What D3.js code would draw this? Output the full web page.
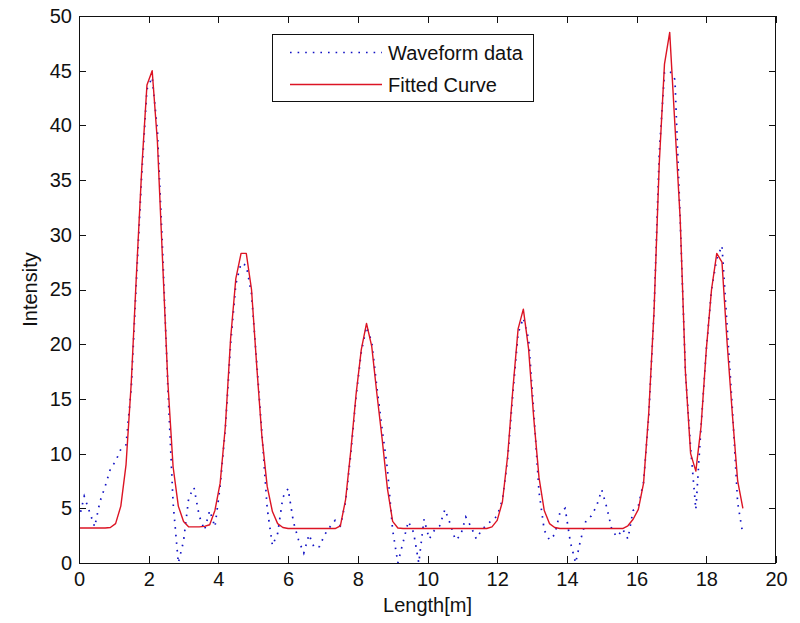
<!DOCTYPE html>
<html>
<head>
<meta charset="utf-8">
<script src="https://cdn.jsdelivr.net/npm/d3@7"></script>
<style>
  html, body { margin: 0; padding: 0; background: #ffffff; }
  svg { display: block; }
  text { font-family: "Liberation Sans", Arial, Helvetica, sans-serif; fill: #111; }
</style>
</head>
<body>
<svg id="chart" width="800" height="623"></svg>
<script>
// Sample positions along the profile (m), one sample per 0.15 m bin
const lengths = [
  0, 0.15, 0.3, 0.45, 0.6, 0.75, 0.9, 1.05, 1.2, 1.35, 1.5, 1.65, 1.8, 1.95, 2.1, 2.25,
  2.4, 2.55, 2.7, 2.85, 3.0, 3.15, 3.3, 3.45, 3.6, 3.75, 3.9, 4.05, 4.2, 4.35, 4.5, 4.65,
  4.8, 4.95, 5.1, 5.25, 5.4, 5.55, 5.7, 5.85, 6.0, 6.15, 6.3, 6.45, 6.6, 6.75, 6.9, 7.05,
  7.2, 7.35, 7.5, 7.65, 7.8, 7.95, 8.1, 8.25, 8.4, 8.55, 8.7, 8.85, 9.0, 9.15, 9.3, 9.45,
  9.6, 9.75, 9.9, 10.05, 10.2, 10.35, 10.5, 10.65, 10.8, 10.95, 11.1, 11.25, 11.4, 11.55, 11.7, 11.85,
  12.0, 12.15, 12.3, 12.45, 12.6, 12.75, 12.9, 13.05, 13.2, 13.35, 13.5, 13.65, 13.8, 13.95, 14.1, 14.25,
  14.4, 14.55, 14.7, 14.85, 15.0, 15.15, 15.3, 15.45, 15.6, 15.75, 15.9, 16.05, 16.2, 16.35, 16.5, 16.65,
  16.8, 16.95, 17.1, 17.25, 17.4, 17.55, 17.7, 17.85, 18.0, 18.15, 18.3, 18.45, 18.6, 18.75, 18.9, 19.05
];

// Recorded waveform intensity
const waveform = [
  4.0, 6.1, 4.7, 3.3, 5.6, 7.0, 8.6, 9.3, 10.4, 10.8, 16.0, 26.0, 35.5, 43.3, 44.4, 39.5,
  28.5, 16.0, 5.5, 0.0, 2.0, 6.0, 6.9, 4.3, 3.0, 4.8, 3.3, 7.0, 12.3, 20.0, 25.5, 27.4,
  27.2, 24.6, 18.3, 11.8, 5.0, 1.6, 2.7, 6.0, 6.8, 3.8, 2.1, 0.9, 2.6, 1.4, 1.5, 2.6,
  3.3, 3.9, 3.4, 5.6, 10.0, 15.2, 19.3, 21.6, 20.2, 16.0, 12.2, 8.6, 3.0, 0.0, 1.9, 3.8,
  2.8, 0.0, 4.0, 2.2, 3.0, 3.4, 4.9, 3.6, 2.1, 2.5, 4.2, 3.3, 2.2, 3.0, 3.5, 3.9,
  4.3, 5.8, 9.5, 15.5, 21.0, 22.4, 20.5, 13.8, 6.5, 3.0, 2.1, 2.6, 4.6, 5.0, 1.9, 0.0,
  2.2, 3.9, 4.3, 5.2, 6.7, 5.0, 2.9, 2.4, 3.1, 2.2, 4.8, 5.2, 7.4, 13.5, 23.0, 37.5,
  44.8, 45.0, 44.2, 31.5, 17.5, 10.5, 4.9, 12.5, 19.5, 25.0, 27.8, 29.0, 21.5, 14.0, 5.5, 2.6
];

// Fitted curve evaluated at the same positions
const fitted = [
  3.2, 3.2, 3.2, 3.2, 3.2, 3.2, 3.25, 3.6, 5.2, 9.0, 16.5, 26.5, 36.0, 43.7, 45.0, 38.5,
  27.5, 16.5, 8.8, 5.2, 3.8, 3.3, 3.3, 3.3, 3.35, 3.5, 4.8, 7.3, 12.5, 20.5, 26.0, 28.3,
  28.3, 25.0, 18.0, 11.5, 7.0, 4.7, 3.6, 3.25, 3.15, 3.15, 3.15, 3.15, 3.15, 3.15, 3.15, 3.15,
  3.15, 3.15, 3.4, 5.8, 10.3, 15.4, 19.5, 21.9, 19.8, 15.4, 11.3, 6.8, 3.8, 3.2, 3.15, 3.15,
  3.15, 3.15, 3.15, 3.15, 3.15, 3.15, 3.15, 3.15, 3.15, 3.15, 3.15, 3.15, 3.15, 3.15, 3.15, 3.3,
  3.9, 5.6, 9.8, 15.9, 21.4, 23.2, 19.6, 13.2, 7.8, 4.8, 3.6, 3.25, 3.15, 3.15, 3.15, 3.15,
  3.15, 3.15, 3.15, 3.15, 3.15, 3.15, 3.15, 3.15, 3.15, 3.4, 4.0, 4.9, 7.3, 13.8, 23.0, 36.5,
  45.6, 48.5, 40.0, 31.5, 17.5, 10.0, 8.4, 12.5, 19.5, 25.0, 28.3, 27.5, 20.0, 13.5, 7.5, 5.0
];

const xTicks = [0, 2, 4, 6, 8, 10, 12, 14, 16, 18, 20];
const yTicks = [0, 5, 10, 15, 20, 25, 30, 35, 40, 45, 50];
const seriesNames = ["Waveform data", "Fitted Curve"];
const xLabel = "Length[m]";
const yLabel = "Intensity";

const box = { left: 79, right: 776, top: 16, bottom: 563 };
const tickLen = 7;
const dataColor = "#1212c4";
const fitColor = "#dc1424";
const dotPattern = "1.6 6";

const svg = d3.select("#chart");

const x = d3.scaleLinear().domain([0, 20]).range([box.left, box.right]);
const y = d3.scaleLinear().domain([0, 50]).range([box.bottom, box.top]);

svg.append("defs").append("clipPath").attr("id", "plotClip")
  .append("rect")
  .attr("x", box.left).attr("y", box.top)
  .attr("width", box.right - box.left).attr("height", box.bottom - box.top);

// Axes: labels on bottom/left, inward ticks on all four sides
const bottomAxis = d3.axisBottom(x).tickValues(xTicks).tickSize(0).tickPadding(10).tickFormat(d3.format("d"));
const leftAxis = d3.axisLeft(y).tickValues(yTicks).tickSize(0).tickPadding(7).tickFormat(d3.format("d"));

const gx = svg.append("g").attr("transform", `translate(0,${box.bottom})`).call(bottomAxis);
const gy = svg.append("g").attr("transform", `translate(${box.left},0)`).call(leftAxis);
[gx, gy].forEach(g => {
  g.select(".domain").remove();
  g.selectAll("text").attr("font-size", 20).attr("fill", "#111")
    .attr("font-family", '"Liberation Sans", Arial, sans-serif');
});
gx.selectAll("text").attr("dy", "0.71em").attr("y", 9);

const tickG = svg.append("g").attr("stroke", "#111").attr("stroke-width", 1);
xTicks.forEach(t => {
  const px = Math.round(x(t)) + 0.5;
  tickG.append("line").attr("x1", px).attr("x2", px).attr("y1", box.bottom).attr("y2", box.bottom - tickLen);
  tickG.append("line").attr("x1", px).attr("x2", px).attr("y1", box.top).attr("y2", box.top + tickLen);
});
yTicks.forEach(t => {
  const py = Math.round(y(t)) + 0.5;
  tickG.append("line").attr("x1", box.left).attr("x2", box.left + tickLen).attr("y1", py).attr("y2", py);
  tickG.append("line").attr("x1", box.right).attr("x2", box.right - tickLen).attr("y1", py).attr("y2", py);
});

// Series
const pts = (vals) => lengths.map((l, i) => [l, vals[i]]);
const line = d3.line().x(d => x(d[0])).y(d => y(d[1]));

const plot = svg.append("g").attr("clip-path", "url(#plotClip)");
plot.append("path")
  .attr("d", line(pts(waveform)))
  .attr("fill", "none")
  .attr("stroke", dataColor)
  .attr("stroke-width", 1.7)
  .attr("stroke-dasharray", dotPattern);
plot.append("path")
  .attr("d", line(pts(fitted)))
  .attr("fill", "none")
  .attr("stroke", fitColor)
  .attr("stroke-width", 1.4)
  .attr("stroke-linejoin", "round");

// Axes box
svg.append("rect")
  .attr("x", box.left + 0.5).attr("y", box.top + 0.5)
  .attr("width", box.right - box.left - 1).attr("height", box.bottom - box.top)
  .attr("fill", "none").attr("stroke", "#111").attr("stroke-width", 1);

// Axis titles
svg.append("text")
  .attr("x", (box.left + box.right) / 2).attr("y", 612)
  .attr("text-anchor", "middle").attr("font-size", 20)
  .text(xLabel);
svg.append("text")
  .attr("transform", `translate(37,${(box.top + box.bottom) / 2}) rotate(-90)`)
  .attr("text-anchor", "middle").attr("font-size", 20)
  .text(yLabel);

// Legend
const legend = svg.append("g");
legend.append("rect")
  .attr("x", 272.5).attr("y", 34.5).attr("width", 261).attr("height", 67)
  .attr("fill", "#fff").attr("stroke", "#111").attr("stroke-width", 1);
const legendRows = [
  { name: seriesNames[0], y: 52.5, stroke: dataColor, dash: dotPattern, w: 1.7 },
  { name: seriesNames[1], y: 84.5, stroke: fitColor, dash: null, w: 1.4 }
];
legendRows.forEach(r => {
  legend.append("line")
    .attr("x1", 290).attr("x2", 382).attr("y1", r.y).attr("y2", r.y)
    .attr("stroke", r.stroke).attr("stroke-width", r.w)
    .attr("stroke-dasharray", r.dash);
  legend.append("text")
    .attr("x", 388).attr("y", r.y).attr("dy", "0.36em")
    .attr("font-size", 20)
    .text(r.name);
});
</script>
</body>
</html>
